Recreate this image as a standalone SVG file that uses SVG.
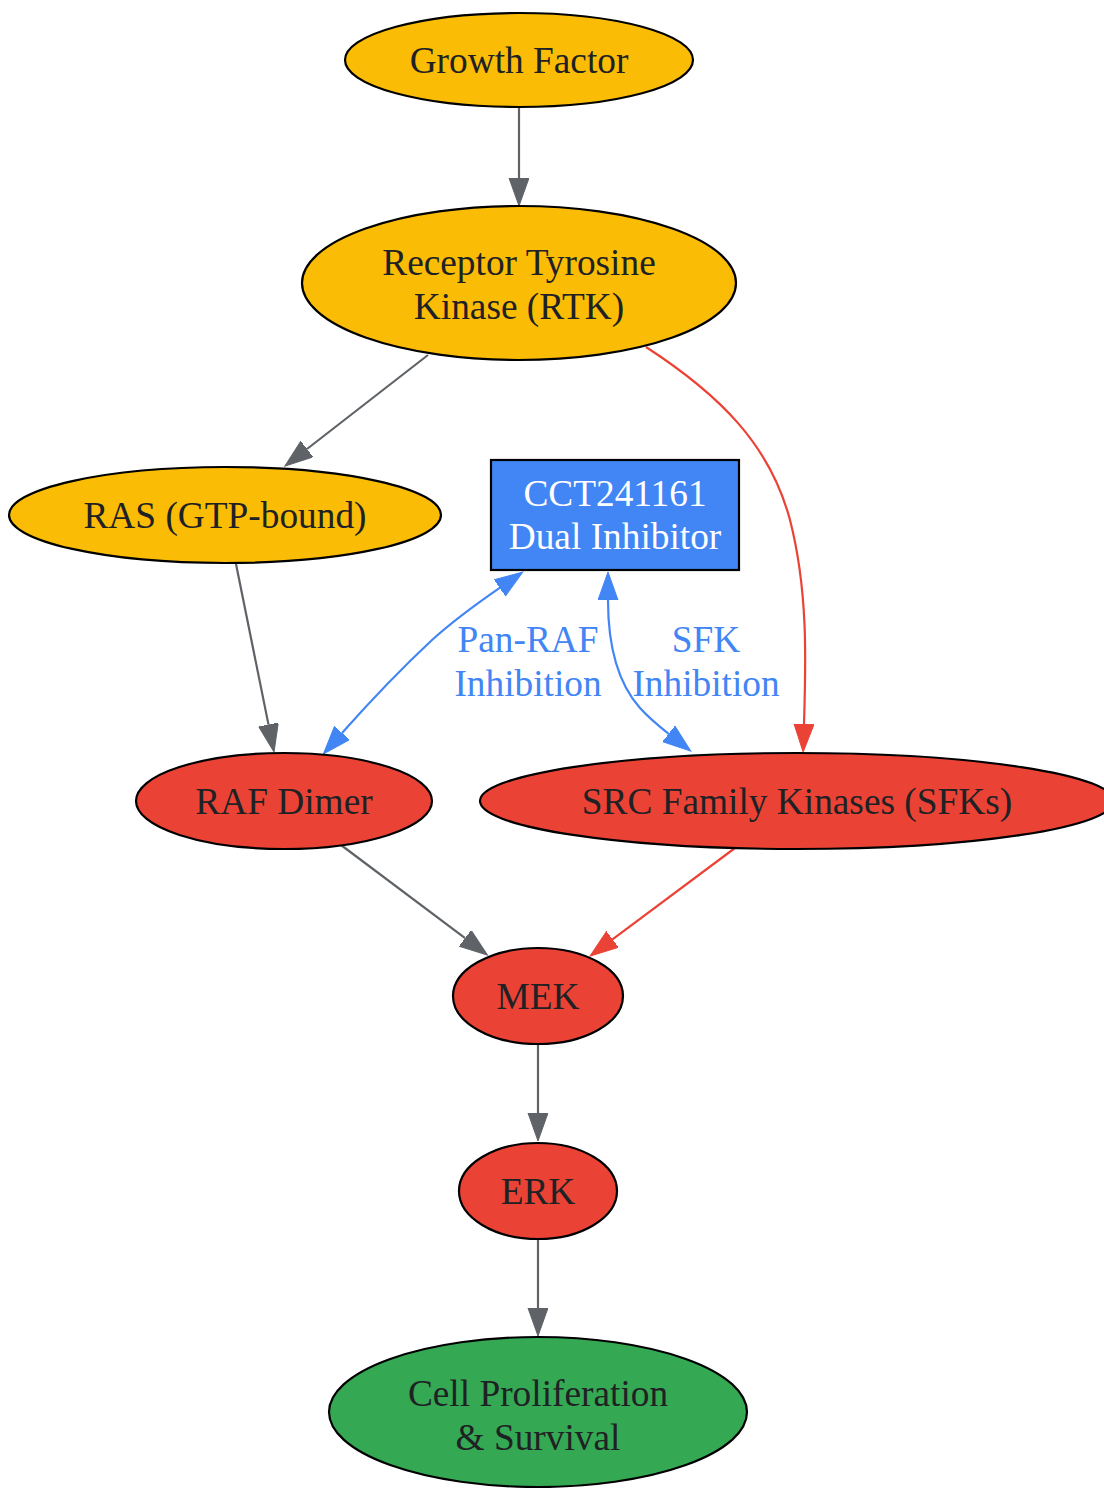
<svg xmlns="http://www.w3.org/2000/svg" width="1104" height="1488" viewBox="0 0 1104 1488">
<style>
.n{stroke:#000;stroke-width:2.2}
.t{font-family:"Liberation Serif","Times New Roman",serif;font-size:37.33px;fill:#202124;text-anchor:middle}
.w{fill:#fff}
.l{font-family:"Liberation Serif","Times New Roman",serif;font-size:37.33px;fill:#4285F4;text-anchor:middle}
.e{fill:none;stroke-width:2.2}
.g{stroke:#5F6368}
.r{stroke:#EA4335}
.b{stroke:#4285F4}
</style>
<defs>
<marker id="ag" markerUnits="userSpaceOnUse" markerWidth="30" markerHeight="22" refX="0" refY="10" orient="auto-start-reverse" viewBox="0 0 30 22"><path d="M0,0 L28,10 L0,20 z" fill="#5F6368" stroke="#5F6368" stroke-width="1"/></marker>
<marker id="ar" markerUnits="userSpaceOnUse" markerWidth="30" markerHeight="22" refX="0" refY="10" orient="auto-start-reverse" viewBox="0 0 30 22"><path d="M0,0 L28,10 L0,20 z" fill="#EA4335" stroke="#EA4335" stroke-width="1"/></marker>
<marker id="ab" markerUnits="userSpaceOnUse" markerWidth="30" markerHeight="22" refX="0" refY="10" orient="auto-start-reverse" viewBox="0 0 30 22"><path d="M0,0 L28,10 L0,20 z" fill="#4285F4" stroke="#4285F4" stroke-width="1"/></marker>
</defs>
<rect x="0" y="0" width="1104" height="1488" fill="#fff"/>
<g id="edges">
<path class="e g" d="M519,108 L519,178" marker-end="url(#ag)"/>
<path class="e g" d="M428,355 L307,449" marker-end="url(#ag)"/>
<path class="e r" d="M646,347 C720,395 770,445 790,520 C808,590 806,660 804,724" marker-end="url(#ar)"/>
<path class="e g" d="M236,564 L268.5,724.6" marker-end="url(#ag)"/>
<path class="e b" d="M499.7,587.9 C472,607 452,622 432,640 C402,668 366,706 342,733" marker-start="url(#ab)" marker-end="url(#ab)"/>
<path class="e b" d="M608,600 C608,640 615,680 640,708 C650,719 660,727 668.7,733.8" marker-start="url(#ab)" marker-end="url(#ab)"/>
<path class="e g" d="M341,845 L465.1,938.2" marker-end="url(#ag)"/>
<path class="e r" d="M735,848 L612.5,939.3" marker-end="url(#ar)"/>
<path class="e g" d="M538,1044 L538,1113" marker-end="url(#ag)"/>
<path class="e g" d="M538,1239 L538,1308" marker-end="url(#ag)"/>
<text class="l" x="528" y="652">Pan-RAF</text>
<text class="l" x="528" y="696">Inhibition</text>
<text class="l" x="706" y="652">SFK</text>
<text class="l" x="706" y="696">Inhibition</text>
</g>
<g id="growth_factor"><ellipse class="n" cx="519" cy="60" rx="174" ry="47" fill="#FBBC05"/><text class="t" x="519" y="73">Growth Factor</text></g>
<g id="rtk"><ellipse class="n" cx="519" cy="283" rx="217" ry="77" fill="#FBBC05"/><text class="t" x="519" y="275">Receptor Tyrosine</text><text class="t" x="519" y="319">Kinase (RTK)</text></g>
<g id="ras"><ellipse class="n" cx="225" cy="515" rx="216" ry="48" fill="#FBBC05"/><text class="t" x="225" y="528">RAS (GTP-bound)</text></g>
<g id="cct241161"><rect class="n" x="491" y="460" width="248" height="110" fill="#4285F4"/><text class="t w" x="615" y="506">CCT241161</text><text class="t w" x="615" y="549">Dual Inhibitor</text></g>
<g id="raf"><ellipse class="n" cx="284" cy="801" rx="148" ry="48" fill="#EA4335"/><text class="t" x="284" y="814">RAF Dimer</text></g>
<g id="sfk"><ellipse class="n" cx="797" cy="801" rx="317" ry="48" fill="#EA4335"/><text class="t" x="797" y="814">SRC Family Kinases (SFKs)</text></g>
<g id="mek"><ellipse class="n" cx="538" cy="996" rx="85" ry="48" fill="#EA4335"/><text class="t" x="538" y="1009">MEK</text></g>
<g id="erk"><ellipse class="n" cx="538" cy="1191" rx="79" ry="48" fill="#EA4335"/><text class="t" x="538" y="1204">ERK</text></g>
<g id="cell"><ellipse class="n" cx="538" cy="1412" rx="209" ry="75" fill="#34A853"/><text class="t" x="538" y="1406">Cell Proliferation</text><text class="t" x="538" y="1450">&amp; Survival</text></g>
</svg>
